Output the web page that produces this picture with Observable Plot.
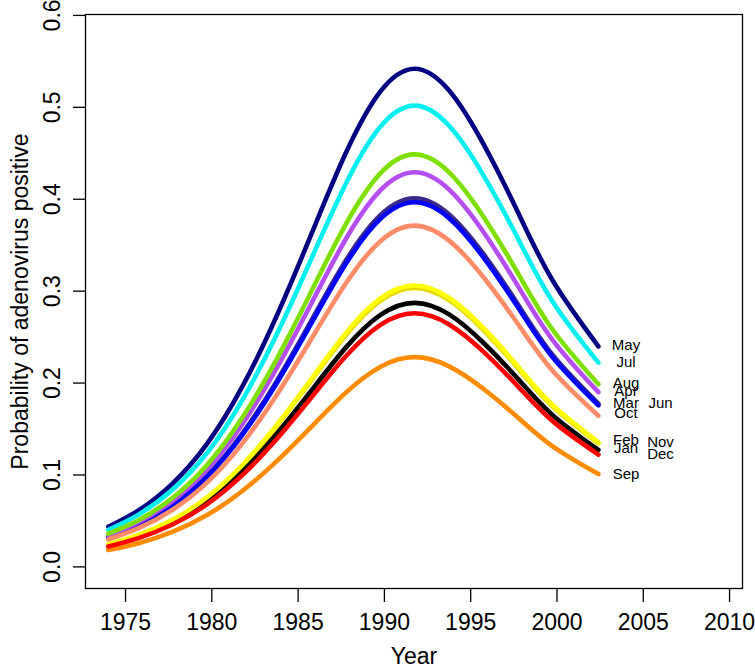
<!DOCTYPE html>
<html><head><meta charset="utf-8">
<script src="https://cdn.jsdelivr.net/npm/d3@7"></script>
<script src="https://cdn.jsdelivr.net/npm/@observablehq/plot@0.6"></script>
<style>body{margin:0;background:#fff}</style>
</head><body><div id="chart"></div>
<script>
const years = [1974, 1975.75, 1977.75, 1979.75, 1981.75, 1983.75, 1985.75, 1987.75, 1989.75, 1991.75, 1993.75, 1995.75, 1997.75, 1999.75, 2002.4];
const jan = [0.0231, 0.0325, 0.0483, 0.0713, 0.1036, 0.1445, 0.1914, 0.2383, 0.2739, 0.2873, 0.2747, 0.2436, 0.2043, 0.1651, 0.1272];
const feb = [0.0246, 0.0347, 0.0515, 0.0760, 0.1105, 0.1541, 0.2041, 0.2541, 0.2920, 0.3062, 0.2928, 0.2597, 0.2178, 0.1761, 0.1356];
const mar = [0.0319, 0.0449, 0.0668, 0.0985, 0.1431, 0.1996, 0.2644, 0.3292, 0.3783, 0.3967, 0.3794, 0.3365, 0.2821, 0.2281, 0.1757];
const apr = [0.0345, 0.0486, 0.0722, 0.1066, 0.1548, 0.2160, 0.2861, 0.3562, 0.4093, 0.4293, 0.4105, 0.3641, 0.3052, 0.2468, 0.1901];
const may = [0.0436, 0.0614, 0.0912, 0.1346, 0.1955, 0.2727, 0.3612, 0.4497, 0.5168, 0.5420, 0.5183, 0.4597, 0.3854, 0.3116, 0.2400];
const jun = [0.0323, 0.0454, 0.0675, 0.0996, 0.1447, 0.2018, 0.2673, 0.3328, 0.3824, 0.4011, 0.3835, 0.3402, 0.2852, 0.2306, 0.1776];
const jul = [0.0404, 0.0569, 0.0845, 0.1246, 0.1810, 0.2525, 0.3345, 0.4164, 0.4786, 0.5019, 0.4799, 0.4257, 0.3569, 0.2885, 0.2222];
const aug = [0.0361, 0.0508, 0.0755, 0.1114, 0.1619, 0.2258, 0.2991, 0.3724, 0.4279, 0.4488, 0.4292, 0.3806, 0.3191, 0.2580, 0.1987];
const sep = [0.0184, 0.0258, 0.0384, 0.0567, 0.0823, 0.1148, 0.1521, 0.1893, 0.2176, 0.2282, 0.2182, 0.1935, 0.1623, 0.1312, 0.1010];
const oct = [0.0299, 0.0421, 0.0625, 0.0922, 0.1339, 0.1868, 0.2474, 0.3080, 0.3540, 0.3713, 0.3550, 0.3149, 0.2640, 0.2134, 0.1644];
const nov = [0.0244, 0.0344, 0.0511, 0.0754, 0.1095, 0.1527, 0.2023, 0.2518, 0.2894, 0.3035, 0.2902, 0.2574, 0.2158, 0.1745, 0.1344];
const dec = [0.0222, 0.0313, 0.0464, 0.0685, 0.0995, 0.1388, 0.1839, 0.2289, 0.2631, 0.2759, 0.2638, 0.2340, 0.1962, 0.1586, 0.1222];

const months = ["Jan", "Feb", "Mar", "Apr", "May", "Jun", "Jul", "Aug", "Sep", "Oct", "Nov", "Dec"];
const seriesValues = [jan, feb, mar, apr, may, jun, jul, aug, sep, oct, nov, dec];
const colors = ["#000000", "#ffff00", "#0000ff", "#b54ef0", "#000080", "#3b2a8c", "#00f0f0", "#7fe000", "#ff8c00", "#ff8c69", "#e8d800", "#ff0000"];
const drawOrder = ["Jun", "Nov", "Jan", "Feb", "Mar", "Apr", "May", "Jul", "Aug", "Sep", "Oct", "Dec"];

const labelYear = [2004, 2004, 2004, 2004, 2004, 2006, 2004, 2004, 2004, 2004, 2006, 2006];
const labelValue = [0.129, 0.1377, 0.178, 0.191, 0.241, 0.178, 0.2228, 0.200, 0.1008, 0.1667, 0.136, 0.1225];

const xTicks = [1975, 1980, 1985, 1990, 1995, 2000, 2005, 2010];
const yTicks = [0.0, 0.1, 0.2, 0.3, 0.4, 0.5, 0.6];

const rows = [];
months.forEach((m, k) => years.forEach((yr, i) => rows.push({month: m, year: yr, value: seriesValues[k][i]})));

const lineMarks = drawOrder.map(m => {
  const k = months.indexOf(m);
  return Plot.line(rows.filter(r => r.month === m), {
    x: "year", y: "value", stroke: colors[k], strokeWidth: 4.6, curve: "natural"
  });
});

const font = "'Liberation Sans', Arial, Helvetica, sans-serif";

const chart = Plot.plot({
  width: 755,
  height: 667,
  marginLeft: 85,
  marginRight: 13,
  marginTop: 14,
  marginBottom: 79,
  style: {fontFamily: font, background: "#fff", color: "#000"},
  x: {domain: [1972.68, 2010.75]},
  y: {domain: [-0.0235, 0.601]},
  marks: [
    ...lineMarks,
    Plot.text(months, {x: labelYear, y: labelValue, text: d => d, fontSize: 15, fill: "#000"}),
    Plot.frame({stroke: "#000", strokeWidth: 1.3}),
    Plot.axisX({ticks: xTicks, tickSize: 14, tickPadding: 11, fontSize: 23, label: null, tickFormat: d => String(d), strokeWidth: 1.3}),
    Plot.axisY({ticks: yTicks, tickSize: 12, label: null, tickFormat: () => "", strokeWidth: 1.3}),
    Plot.text(yTicks, {y: d => d, frameAnchor: "left", textAnchor: "middle", dx: -33, rotate: -90, text: d => d.toFixed(1), fontSize: 23, fill: "#000"}),
    Plot.text(["Year"], {frameAnchor: "bottom", dy: 75, fontSize: 23, fill: "#000"}),
    Plot.text(["Probability of adenovirus positive"], {frameAnchor: "left", textAnchor: "middle", dx: -65, rotate: -90, fontSize: 23, fill: "#000"})
  ]
});
document.getElementById("chart").appendChild(chart);
</script>
</body></html>
